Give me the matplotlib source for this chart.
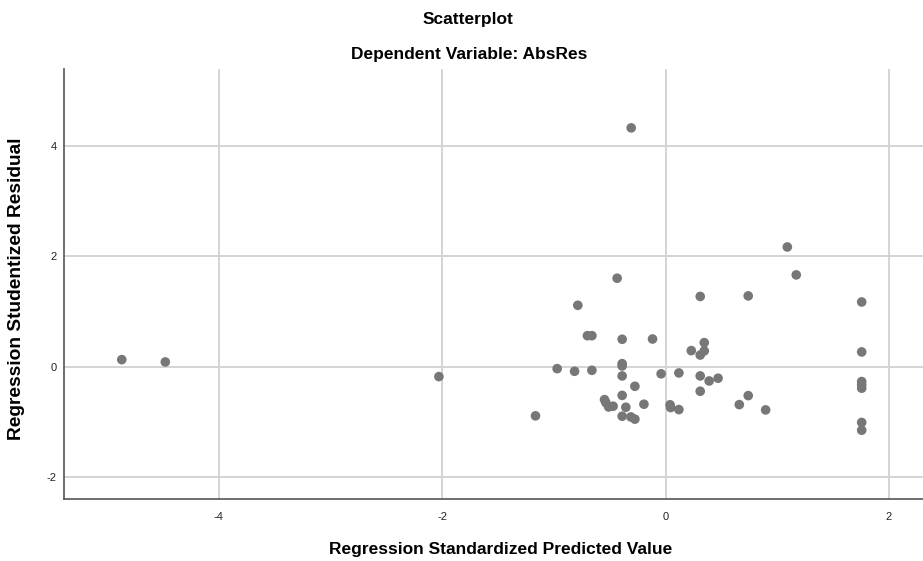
import matplotlib.pyplot as plt

plt.rcParams['font.family'] = ['Liberation Sans', 'DejaVu Sans']

# Regression standardized predicted value vs studentized residual
pred = [-4.87, -4.48, -2.03, -1.165, -0.971, -0.815, -0.786, -0.70, -0.66, -0.66,
        -0.547, -0.535, -0.51, -0.47, -0.434, -0.389, -0.389, -0.389, -0.389, -0.389,
        -0.389, -0.356, -0.311, -0.308, -0.275, -0.275, -0.194, -0.117, -0.04, 0.04,
        0.045, 0.119, 0.119, 0.23, 0.31, 0.31, 0.31, 0.31, 0.346, 0.346,
        0.39, 0.47, 0.66, 0.74, 0.74, 0.896, 1.09, 1.17, 1.756, 1.756,
        1.756, 1.756, 1.756, 1.756, 1.756]
resid = [0.127, 0.085, -0.18, -0.89, -0.036, -0.084, 1.11, 0.56, 0.56, -0.066,
         -0.597, -0.65, -0.73, -0.716, 1.60, 0.495, 0.054, 0.013, -0.168, -0.52,
         -0.897, -0.735, -0.91, 4.32, -0.355, -0.95, -0.68, 0.50, -0.13, -0.69,
         -0.74, -0.114, -0.777, 0.29, 1.27, 0.21, -0.168, -0.445, 0.434, 0.284,
         -0.259, -0.21, -0.687, 1.28, -0.524, -0.783, 2.165, 1.66, 1.17, 0.266,
         -0.27, -0.33, -0.39, -1.01, -1.15]

xticks = [-4, -2, 0, 2]
yticks = [-2, 0, 2, 4]

fig = plt.figure(figsize=(9.23, 5.61), dpi=100)
ax = fig.add_axes([0.069, 0.110, 0.931, 0.7665])

ax.scatter(pred, resid, s=48, color='#777777', edgecolors='none', zorder=3)

ax.set_xlim(-5.39, 2.305)
ax.set_ylim(-2.40, 5.38)
ax.set_xticks(xticks)
ax.set_yticks(yticks)
ax.set_xticklabels([str(t) for t in xticks])
ax.set_yticklabels([str(t) for t in yticks])
ax.grid(True, color='#d4d4d4', linewidth=1.4, zorder=0)
ax.set_axisbelow(True)

for side in ['top', 'right']:
    ax.spines[side].set_visible(False)
for side in ['left', 'bottom']:
    ax.spines[side].set_color('#555555')
    ax.spines[side].set_linewidth(1.2)

ax.tick_params(length=0, labelsize=8, colors='#222222')
ax.tick_params(axis='x', pad=9)
ax.tick_params(axis='y', pad=5)

ax.set_xlabel('Regression Standardized Predicted Value', fontsize=12.5,
              fontweight='bold')
ax.xaxis.set_label_coords(0.509, -0.100)
ax.set_ylabel('Regression Studentized Residual', fontsize=13.8,
              fontweight='bold')
ax.yaxis.set_label_coords(-0.045, 0.49)

fig.text(0.507, 0.965, 'Scatterplot', ha='center', va='center',
         fontsize=12.5, fontweight='bold')
fig.text(0.508, 0.902, 'Dependent Variable: AbsRes', ha='center', va='center',
         fontsize=12.5, fontweight='bold')

fig.savefig('out.png', dpi=100)
